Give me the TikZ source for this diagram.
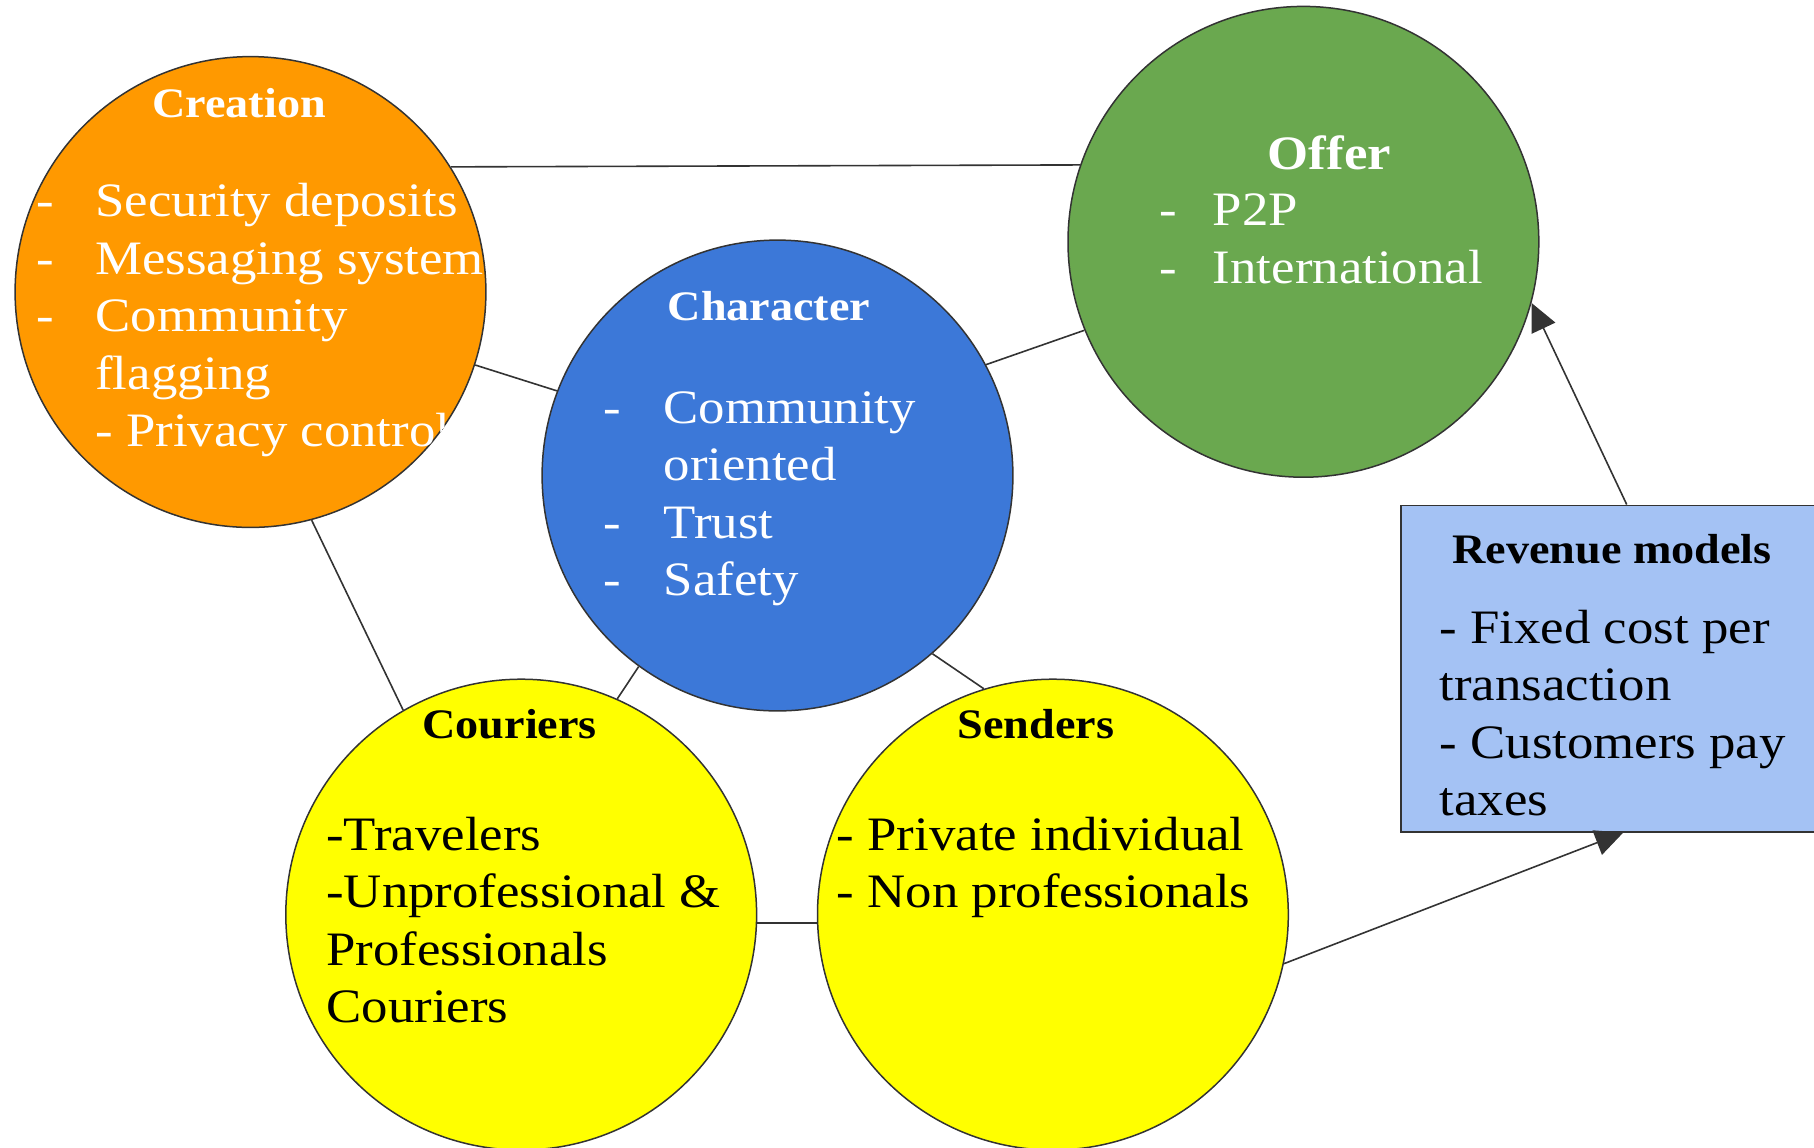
\documentclass[tikz,border=0pt]{standalone}
\usepackage{fontspec}
\setmainfont{Liberation Serif}[FakeStretch=1.1]
\usetikzlibrary{arrows.meta,calc}
\definecolor{corange}{HTML}{FF9900}
\definecolor{cgreen}{HTML}{6AA84F}
\definecolor{cblue}{HTML}{3C78D8}
\definecolor{cyellow}{HTML}{FFFF00}
\definecolor{cbox}{HTML}{A4C2F4}
\definecolor{cline}{HTML}{333333}
\tikzset{
  bubble/.style={circle, draw=cline, line width=0.75pt, minimum size=235.4pt, inner sep=0pt},
  txt/.style={inner sep=0pt, anchor=base west, font=\fontsize{24}{28}\selectfont},
  ttl/.style={inner sep=0pt, anchor=base, font=\fontsize{21}{26}\selectfont\bfseries},
  link/.style={draw=cline, line width=0.8pt},
  arr/.style={link, -{Triangle[length=14pt,width=13pt]}},
  revbox/.style={draw=cline, line width=0.75pt, fill=cbox, anchor=north west, minimum width=215pt, minimum height=163.25pt, inner sep=0pt}
}
\begin{document}
\begin{tikzpicture}[x=0.5pt,y=-0.5pt]
\useasboundingbox (0,0) rectangle (1814,1147);
\clip (0,0) rectangle (1814,1147);
% circles
\node[bubble, fill=corange] (creation) at (250.5,292) {};
\node[bubble, fill=cgreen] (offer) at (1303.4,241.8) {};
\node[bubble, fill=cblue] (character) at (777.5,475.5) {};
\node[bubble, fill=cyellow] (couriers) at (521.2,914.6) {};
\node[bubble, fill=cyellow] (senders) at (1052.9,914.6) {};
\node[revbox] (rev) at (1400,504.5) {};
% connectors
\draw[link] (creation.32.07) -- (offer.161.47);
\draw[link] (creation.-18.4) -- (character.159.2);
\draw[link] (character.28) -- (offer.202.9);
\draw[link] (creation.-75.8) -- (couriers.120.8);
\draw[link] (character.234.3) -- (couriers.66.6);
\draw[link] (character.-49) -- (senders.107);
\draw[link] (couriers.-2.1) -- (senders.182.1);
\draw[arr] (senders.-12.3) -- ($(rev.south west)+(223.3,0)$);
\draw[arr] ($(rev.north west)+(226.7,0)$) -- (offer.-15.9);
% Creation text
\begin{scope}
\clip (creation.center) circle [radius=117.7pt];
\node[ttl, text=white] (creationT) at (239,117.3) {Creation};
\node[txt, text=white] (cr1d) at (36,216.7) {-};
\node[txt, text=white] (cr1) at (95,216.7) {Security deposits};
\node[txt, text=white] (cr2d) at (36,274.2) {-};
\node[txt, text=white] (cr2) at (95,274.2) {Messaging system};
\node[txt, text=white] (cr3d) at (36,331.7) {-};
\node[txt, text=white] (cr3) at (95,331.7) {Community};
\node[txt, text=white] (cr4) at (95,389.2) {flagging};
\node[txt, text=white] (cr5) at (95,446.7) {- Privacy control};
\end{scope}
% Offer text
\node[ttl, text=white, font=\fontsize{24}{28}\selectfont\bfseries] (offerT) at (1329.4,169) {Offer};
\node[txt, text=white] (of1d) at (1159,225.6) {-};
\node[txt, text=white] (of1) at (1212.5,225.6) {P2P};
\node[txt, text=white] (of2d) at (1159,283.1) {-};
\node[txt, text=white] (of2) at (1212.5,283.1) {International};
% Character text
\node[ttl, text=white] (charT) at (769,320.7) {Character};
\node[txt, text=white] (ch1d) at (603,423.3) {-};
\node[txt, text=white] (ch1) at (663.3,423.3) {Community};
\node[txt, text=white] (ch2) at (663.3,480.8) {oriented};
\node[txt, text=white] (ch3d) at (603,538.3) {-};
\node[txt, text=white] (ch3) at (663.3,538.3) {Trust};
\node[txt, text=white] (ch4d) at (603,595.8) {-};
\node[txt, text=white] (ch4) at (663.3,595.8) {Safety};
% Couriers text
\node[ttl] (courT) at (509.7,738) {Couriers};
\node[txt] (co1) at (326,850.4) {-Travelers};
\node[txt] (co2) at (326,907.9) {-Unprofessional \&};
\node[txt] (co3) at (326,965.4) {Professionals};
\node[txt] (co4) at (326,1022.9) {Couriers};
% Senders text
\node[ttl] (sendT) at (1036,738) {Senders};
\node[txt] (se1) at (836.5,850.4) {- Private individual};
\node[txt] (se2) at (836.5,907.9) {- Non professionals};
% Revenue text
\node[ttl] (revT) at (1612,563.3) {Revenue models};
\node[txt] (re1) at (1439.3,643.3) {- Fixed cost per};
\node[txt] (re2) at (1439.3,700.8) {transaction};
\node[txt] (re3) at (1439.3,758.3) {- Customers pay};
\node[txt] (re4) at (1439.3,815.8) {taxes};
\end{tikzpicture}
\end{document}
